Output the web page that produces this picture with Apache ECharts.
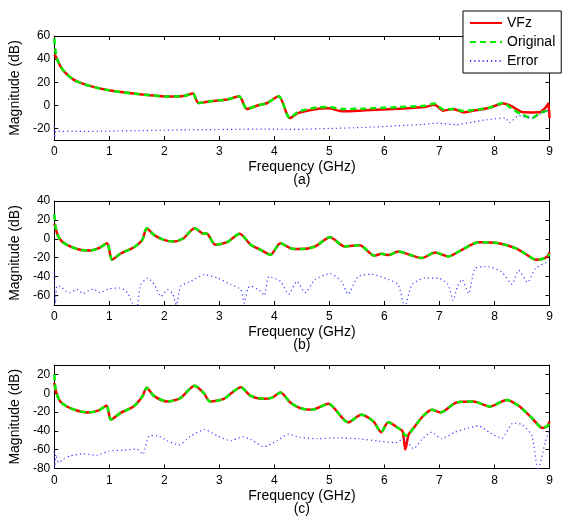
<!DOCTYPE html>
<html>
<head>
<meta charset="utf-8">
<script src="https://cdn.jsdelivr.net/npm/echarts@6/dist/echarts.min.js"></script>
<style>
  html, body { margin: 0; padding: 0; background: #fff; }
  #chart { width: 562px; height: 517px; }
</style>
</head>
<body>
<div id="chart"></div>
<script>
// ---- (a) ----
const freqA = [0, 0.02, 0.05, 0.11, 0.2, 0.35, 0.53, 0.71, 0.99, 1.14, 1.44, 1.75, 2.05, 2.35, 2.52, 2.62, 2.84, 3.14, 3.36, 3.5, 3.68, 3.87, 4.08, 4.28, 4.44, 4.8, 4.98, 5.25, 5.65, 6.25, 6.74, 6.91, 7.07, 7.25, 7.44, 7.65, 7.89, 8.16, 8.31, 8.5, 8.68, 8.83, 8.95, 8.98, 9.0];
const vfzA  = [44, 43, 40, 34, 28.2, 22.3, 18.6, 16, 13, 11.9, 10.2, 8.7, 7.6, 8.1, 10.2, 2, 3.5, 5, 7.8, -3.1, -0.3, 2, 7.8, -11, -6.5, -2.9, -2.6, -5.2, -4.3, -2.9, -1.5, 0.6, -4.6, -3.2, -6.1, -4.3, -2.3, 1.5, -0.8, -5.8, -6.1, -5.8, -0.8, 1.5, -11];
const origA = [58, 48, 40.5, 34, 28.2, 22.3, 18.6, 16, 13, 11.9, 10.2, 8.7, 7.6, 8.1, 10.2, 2, 3.5, 5, 7.8, -3.1, -0.3, 2, 7.8, -11, -5.5, -1.7, -1.5, -3.2, -2.8, -1.5, -0.3, 1.5, -3.6, -3.2, -4.9, -3.8, -2.3, 2, -2.9, -8.1, -11, -6.6, -4.5, -3, -2];
const errFreqA = [0, 0.01, 0.03, 0.5, 1, 1.5, 2, 2.35, 2.8, 3.3, 3.8, 4.4, 5.0, 5.65, 6.25, 6.7, 6.98, 7.3, 7.6, 7.85, 8.2, 8.27, 8.44, 8.68, 8.92, 9.0];
const errA = [-18, -28, -22.5, -22.6, -22.3, -22, -21.5, -21.2, -21, -20.8, -20.5, -20.8, -20, -19.1, -17.7, -16.5, -15.4, -16.8, -14.5, -12.5, -11, -15, -9, -11, -5.2, -4];

// ---- (b) ----
const freqB = [0, 0.02, 0.06, 0.14, 0.29, 0.47, 0.66, 0.81, 0.96, 1.05, 1.2, 1.44, 1.6, 1.68, 1.81, 1.99, 2.17, 2.35, 2.55, 2.69, 2.78, 2.93, 3.14, 3.37, 3.57, 3.75, 3.93, 4.11, 4.29, 4.47, 4.74, 5.01, 5.28, 5.55, 5.82, 5.95, 6.07, 6.25, 6.46, 6.68, 6.92, 7.16, 7.41, 7.71, 8.07, 8.38, 8.56, 8.75, 8.87, 8.96, 9.0];
const vfzB  = [16, 13, 4.2, -2.8, -8.1, -11.6, -12.3, -9.9, -4.6, -22.1, -15.8, -9.2, -1.1, 11.2, 4.2, -1.1, -2.8, 0.6, 11.2, 5.9, 5.3, -6.3, -3.6, 5.3, -6.3, -11.6, -16.8, -4.6, -9.9, -10.9, -8.1, 1.7, -8.1, -6.7, -17.9, -15.8, -17.2, -13.4, -16.8, -20.4, -14.4, -18.6, -11.6, -3.6, -4.6, -9.9, -15.8, -22.1, -21.4, -18.6, -14.4];
const origB = [26, 14, 4.2, -2.8, -8.1, -11.6, -12.3, -9.9, -4.6, -22.1, -15.8, -9.2, -1.1, 11.2, 4.2, -1.1, -2.8, 0.6, 11.2, 5.9, 5.3, -6.3, -3.6, 5.3, -6.3, -11.6, -16.8, -4.6, -9.9, -10.9, -8.1, 1.7, -8.1, -6.7, -17.9, -15.8, -17.2, -13.4, -16.8, -20.4, -14.4, -18.6, -11.6, -3.6, -4.6, -9.9, -15.8, -22.1, -21.4, -19, -16];
const errFreqB = [0, 0.02, 0.05, 0.11, 0.2, 0.29, 0.41, 0.53, 0.62, 0.71, 0.83, 0.99, 1.2, 1.33, 1.42, 1.5, 1.57, 1.7, 1.82, 1.94, 2.06, 2.15, 2.22, 2.3, 2.48, 2.73, 2.97, 3.21, 3.39, 3.45, 3.52, 3.57, 3.75, 3.82, 3.9, 4.11, 4.26, 4.41, 4.56, 4.74, 5.01, 5.22, 5.34, 5.52, 5.76, 6.07, 6.25, 6.37, 6.5, 6.73, 6.98, 7.15, 7.25, 7.33, 7.41, 7.53, 7.65, 7.89, 8.13, 8.32, 8.44, 8.6, 8.75, 8.99];
const errB = [-35, -68, -50, -50, -55, -57, -53.5, -58, -55, -53, -57, -53, -52, -57, -68, -72, -48.5, -41.5, -48.5, -61, -53.7, -58, -70, -50, -45, -38, -41.5, -48.5, -53.7, -68, -52, -50, -55.5, -60, -40, -45, -58.6, -45, -57, -43, -36.8, -45, -58.6, -40, -37.5, -43, -48.5, -72, -48.5, -41.5, -41.5, -48, -65, -50, -43, -58, -31, -29.5, -35, -48, -33.3, -46, -31, -24];

// ---- (c) ----
const freqC = [0, 0.02, 0.04, 0.11, 0.23, 0.41, 0.62, 0.81, 0.95, 1.03, 1.2, 1.44, 1.6, 1.68, 1.81, 2.05, 2.29, 2.55, 2.72, 2.83, 3.08, 3.39, 3.57, 3.81, 3.96, 4.11, 4.29, 4.47, 4.68, 4.98, 5.34, 5.58, 5.8, 5.94, 6.07, 6.25, 6.33, 6.38, 6.44, 6.53, 6.71, 6.86, 7.02, 7.31, 7.62, 7.92, 8.22, 8.44, 8.68, 8.87, 8.96, 9.0];
const vfzC  = [11, 5, 0, -8.8, -14.1, -18.3, -20.4, -18.3, -13, -28.1, -21.1, -14.1, -3.5, 5.9, -2.8, -8.8, -5.3, 8, 0, -8.8, -6, 6.3, -2.8, -6, -4.6, 0.7, -9.8, -15.8, -17.6, -11.3, -30.9, -22.8, -29.9, -41.4, -30.9, -36.9, -40.4, -59.7, -43.9, -36.9, -23.9, -17.6, -20.4, -9.8, -8.8, -14.1, -7.1, -13.4, -26.3, -36.9, -35, -29.9];
const origC = [20, 6, 0, -8.8, -14.1, -18.3, -20.4, -18.3, -13, -28.1, -21.1, -14.1, -3.5, 5.9, -2.8, -8.8, -5.3, 8, 0, -8.8, -6, 6.3, -2.8, -6, -4.6, 0.7, -9.8, -15.8, -17.6, -11.3, -30.9, -22.8, -29.9, -41.4, -30.9, -36.9, -40.4, -45, -43.9, -36.9, -23.9, -17.6, -20.4, -9.8, -8.8, -14.1, -7.1, -13.4, -26.3, -36.9, -35, -31];
const errFreqC = [0, 0.01, 0.03, 0.08, 0.17, 0.29, 0.53, 0.77, 0.99, 1.26, 1.5, 1.61, 1.72, 1.87, 2.05, 2.26, 2.48, 2.73, 2.97, 3.21, 3.42, 3.57, 3.81, 4.05, 4.26, 4.47, 4.8, 5.16, 5.53, 5.89, 6.2, 6.35, 6.53, 6.68, 6.86, 7.04, 7.28, 7.53, 7.71, 7.92, 8.13, 8.34, 8.5, 8.68, 8.79, 8.92, 9.0];
const errC = [-62, -80, -65, -73.7, -70, -66.7, -64.3, -66, -61.5, -60.5, -59.3, -65, -45.6, -45, -50.5, -55, -45.6, -38.6, -45.6, -50.5, -46.3, -49, -56.9, -50.5, -43.5, -47, -48.4, -47.4, -48.4, -50.9, -52.6, -48.4, -58.9, -49.1, -41.4, -48.4, -41.4, -36.9, -34.7, -42.1, -48.1, -31.6, -33.3, -45, -82, -52.6, -38.6];

// ---- axes ----
const xTicks = [0, 1, 2, 3, 4, 5, 6, 7, 8, 9];
const panels = [
  { label: '(a)', yMin: -30, yMax: 60, yTicks: [-20, 0, 20, 40, 60], f: freqA, vfz: vfzA, orig: origA, ef: errFreqA, err: errA },
  { label: '(b)', yMin: -70, yMax: 40, yTicks: [-60, -40, -20, 0, 20, 40], f: freqB, vfz: vfzB, orig: origB, ef: errFreqB, err: errB },
  { label: '(c)', yMin: -80, yMax: 30, yTicks: [-80, -60, -40, -20, 0, 20], f: freqC, vfz: vfzC, orig: origC, ef: errFreqC, err: errC }
];

const FONT = 'Liberation Sans, Arial, sans-serif';
const gridTops = [36, 201, 365];
const gridHeight = 104;

const zip = (xs, ys) => xs.map((x, i) => [x, ys[i]]);

const grid = [], xAxis = [], yAxis = [], series = [];
panels.forEach((p, i) => {
  grid.push({ left: 54, right: 12.5, top: gridTops[i], height: gridHeight, show: false });
  const baseLine = { show: true, onZero: false, lineStyle: { color: '#000', width: 1 } };
  const tick = { show: true, inside: true, length: 4, lineStyle: { color: '#000' }, customValues: xTicks };
  xAxis.push({
    type: 'value', gridIndex: i, position: 'bottom', min: 0, max: 9,
    axisLine: baseLine, axisTick: tick, splitLine: { show: false },
    axisLabel: { show: true, customValues: xTicks, margin: 6, color: '#000', fontFamily: FONT, fontSize: 12 },
    name: 'Frequency (GHz)\n' + p.label, nameLocation: 'middle', nameGap: 21,
    nameTextStyle: { color: '#000', fontFamily: FONT, fontSize: 14, lineHeight: 13 }
  });
  xAxis.push({
    type: 'value', gridIndex: i, position: 'top', min: 0, max: 9,
    axisLine: baseLine, axisTick: tick, splitLine: { show: false }, axisLabel: { show: false }
  });
  const yTick = { show: true, inside: true, length: 4, lineStyle: { color: '#000' }, customValues: p.yTicks };
  yAxis.push({
    type: 'value', gridIndex: i, position: 'left', min: p.yMin, max: p.yMax,
    axisLine: baseLine, axisTick: yTick, splitLine: { show: false },
    axisLabel: { show: true, customValues: p.yTicks, margin: 4, color: '#000', fontFamily: FONT, fontSize: 12 },
    name: 'Magnitude (dB)', nameLocation: 'middle', nameGap: 26,
    nameTextStyle: { color: '#000', fontFamily: FONT, fontSize: 14 }
  });
  yAxis.push({
    type: 'value', gridIndex: i, position: 'right', min: p.yMin, max: p.yMax,
    axisLine: baseLine, axisTick: yTick, splitLine: { show: false }, axisLabel: { show: false }
  });
  const common = { type: 'line', xAxisIndex: 2 * i, yAxisIndex: 2 * i, symbol: 'none', smooth: 0.25, animation: false, clip: true };
  series.push(Object.assign({}, common, {
    name: 'VFz', data: zip(p.f, p.vfz),
    lineStyle: { color: '#ff0000', width: 2.5 }, itemStyle: { color: '#ff0000' }
  }));
  series.push(Object.assign({}, common, {
    name: 'Original', data: zip(p.f, p.orig),
    lineStyle: { color: '#00ee00', width: 2.5, type: [6, 4] }, itemStyle: { color: '#00ee00' }
  }));
  series.push(Object.assign({}, common, {
    name: 'Error', data: zip(p.ef, p.err), smooth: 0.2,
    lineStyle: { color: '#3a3aff', width: 1.2, type: [1.2, 3] }, itemStyle: { color: '#3a3aff' }
  }));
});

const chart = echarts.init(document.getElementById('chart'), null, { renderer: 'canvas' });
chart.setOption({
  backgroundColor: '#fff',
  animation: false,
  grid, xAxis, yAxis, series,
  legend: {
    data: ['VFz', 'Original', 'Error'],
    orient: 'vertical', left: 463, top: 11, z: 20,
    padding: [5, 6, 5, 6], itemGap: 5, itemWidth: 32, itemHeight: 14,
    backgroundColor: '#fff', borderColor: '#000', borderWidth: 1, borderRadius: 0,
    itemStyle: { opacity: 0 },
    textStyle: { color: '#000', fontFamily: FONT, fontSize: 14 },
    selectedMode: false
  }
});
</script>
</body>
</html>
